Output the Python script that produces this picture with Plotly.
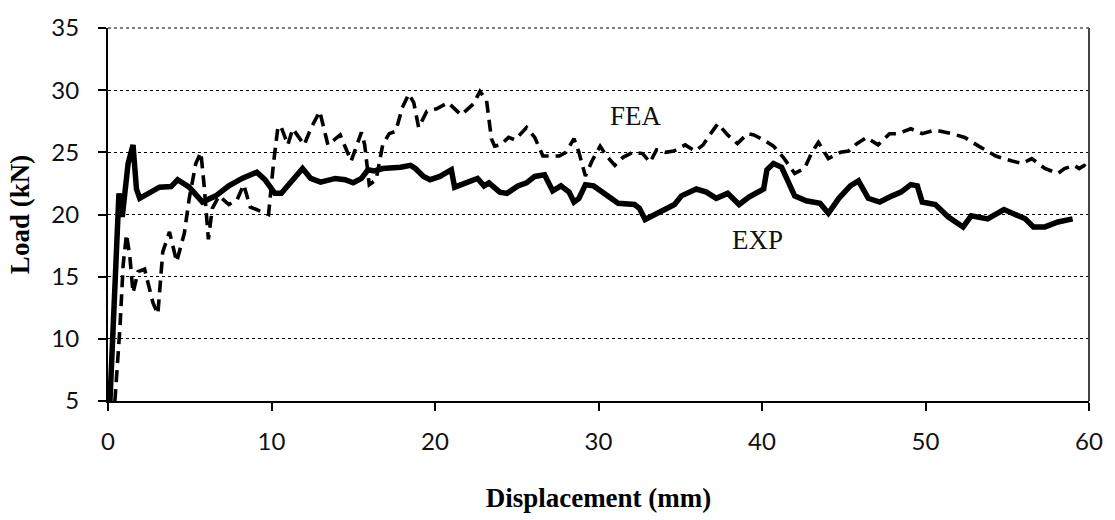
import plotly.graph_objects as go

# Experimental load-displacement curve (solid)
exp_disp = [0.12, 0.63, 0.67, 0.87, 1.0, 1.23, 1.53, 1.74, 1.94, 2.44, 3.15, 3.86, 4.26, 4.97,
            5.78, 6.59, 7.39, 8.2, 9.1, 9.6, 10.2, 10.6, 11.2, 11.9, 12.4, 13.0, 13.9, 14.5,
            15.0, 15.5, 15.9, 16.3, 16.8, 17.5, 17.9, 18.5, 18.8, 19.3, 19.7, 20.3, 21.0, 21.2,
            22.0, 22.6, 23.0, 23.3, 23.96, 24.4, 25.07, 25.6, 26.1, 26.7, 27.2, 27.7, 28.2, 28.5,
            28.8, 29.2, 29.7, 30.4, 31.2, 32.2, 32.5, 32.85, 33.45, 34.06, 34.65, 35.07, 35.98,
            36.6, 37.2, 37.9, 38.6, 39.2, 40.1, 40.3, 40.7, 41.2, 42.0, 42.7, 43.55, 44.06, 44.7,
            45.4, 45.9, 46.5, 47.2, 47.96, 48.5, 49.1, 49.5, 49.8, 50.6, 51.4, 52.3, 52.8, 53.8,
            54.8, 55.3, 56.1, 56.6, 57.3, 58.1, 59.0]
exp_load = [5.0, 21.5, 21.7, 19.8, 21.5, 24.1, 25.6, 22.05, 21.3, 21.7, 22.2, 22.25, 22.8, 22.2,
            21.0, 21.5, 22.3, 22.9, 23.4, 22.8, 21.7, 21.7, 22.6, 23.7, 22.9, 22.6, 22.9, 22.8,
            22.55, 22.9, 23.6, 23.5, 23.7, 23.7, 23.8, 23.95, 23.7, 23.06, 22.8, 23.06, 23.6, 22.2,
            22.55, 22.9, 22.3, 22.55, 21.8, 21.7, 22.3, 22.55, 23.06, 23.2, 21.9, 22.3, 21.8, 21.0,
            21.3, 22.4, 22.3, 21.7, 20.9, 20.8, 20.5, 19.6, 20.0, 20.4, 20.8, 21.5, 22.05,
            21.8, 21.3, 21.7, 20.8, 21.4, 22.05, 23.6, 24.1, 23.8, 21.5, 21.1, 20.9, 20.1, 21.3,
            22.3, 22.7, 21.3, 21.0, 21.5, 21.8, 22.4, 22.3, 21.0, 20.8, 19.8, 19.0, 19.9, 19.65,
            20.4, 20.1, 19.65, 19.0, 19.0, 19.4, 19.65]

# Finite element analysis curve (dashed)
fea_disp = [0.42, 0.73, 0.93, 1.13, 1.33, 1.53, 1.84, 2.24, 2.75, 3.05, 3.35, 3.76, 4.2, 4.67,
            4.97, 5.37, 5.68, 5.88, 6.14, 6.38, 6.79, 7.39, 7.9, 8.3, 8.7, 9.82, 10.12, 10.4,
            10.6, 11.0, 11.3, 12.0, 12.4, 12.95, 13.45, 14.2, 14.87, 15.5, 15.7, 15.98, 16.4,
            16.8, 17.2, 17.6, 18.0, 18.4, 18.7, 19.0, 19.5, 20.1, 20.8, 21.6, 22.35, 22.75, 23.15,
            23.45, 23.65, 24.0, 24.5, 24.9, 25.6, 26.1, 26.6, 27.6, 28.0, 28.5, 28.8, 29.2, 29.6,
            30.1, 30.5, 31.0, 31.5, 32.1, 32.7, 33.15, 33.55, 34.1, 34.6, 35.3, 35.9, 36.4, 36.8,
            37.3, 37.9, 38.5, 39.1, 39.5, 40.1, 40.7, 41.3, 42.0, 42.6, 43.05, 43.45, 44.06, 44.8,
            45.3, 45.8, 46.4, 47.1, 47.8, 48.3, 49.1, 49.8, 50.6, 51.6, 52.4, 53.25, 54.3, 55.3,
            55.9, 56.5, 57.3, 58.1, 58.5, 59.1, 59.4, 59.7, 60.0]
fea_load = [5.0, 10.9, 16.0, 18.4, 16.7, 13.7, 15.4, 15.6, 12.9, 12.0, 17.0, 18.6, 16.2, 18.5,
            21.3, 24.1, 25.0, 22.3, 18.0, 20.5, 21.5, 20.8, 21.2, 22.4, 20.6, 20.0, 24.1, 27.1,
            27.0, 25.6, 26.9, 25.6, 26.9, 28.3, 25.6, 26.4, 24.3, 26.6, 25.6, 22.4, 22.8,
            25.6, 26.5, 26.7, 28.6, 29.7, 29.0, 27.0, 28.3, 28.5, 29.0, 28.0, 28.9, 29.9, 29.2,
            26.1, 25.5, 25.6, 26.2, 26.0, 27.0, 26.2, 24.7, 24.7, 25.0, 26.1, 25.0, 23.1, 24.3,
            25.5, 24.7, 23.95, 24.6, 25.0, 24.9, 24.2, 25.2, 25.0, 25.1, 25.6, 25.1, 25.6, 26.4,
            27.3, 26.4, 25.7, 26.5, 26.4, 26.0, 25.5, 24.6, 23.3, 23.7, 25.0, 25.8, 24.5, 25.0,
            25.1, 25.7, 26.2, 25.6, 26.5, 26.5, 26.9, 26.5, 26.8, 26.5, 26.2, 25.5, 24.7, 24.3,
            24.1, 24.5, 23.7, 23.3, 23.7, 23.95, 23.7, 23.95, 23.6]

x_ticks = [0, 10, 20, 30, 40, 50, 60]
y_ticks = [5, 10, 15, 20, 25, 30, 35]

tick_font = dict(family="Lato, Open Sans, sans-serif", size=24, color="#111111")
title_font = dict(family="Liberation Serif, Times New Roman, serif", size=27, color="#000000")
label_font = dict(family="Liberation Serif, Times New Roman, serif", size=27, color="#111111")

fig = go.Figure()
fig.add_trace(go.Scatter(x=fea_disp, y=fea_load, mode="lines", name="FEA",
                         line=dict(color="black", width=3.6, dash="12px,7px")))
fig.add_trace(go.Scatter(x=exp_disp, y=exp_load, mode="lines", name="EXP",
                         line=dict(color="black", width=5.5)))

fig.update_layout(
    width=1115, height=520,
    margin=dict(l=108, r=16, t=23, b=103),
    paper_bgcolor="white", plot_bgcolor="white",
    showlegend=False,
    xaxis=dict(range=[0, 60], tickvals=x_ticks, ticks="outside", ticklen=8, tickwidth=1.5,
               tickcolor="black", showline=True, linecolor="black", linewidth=2,
               showgrid=False, zeroline=False, tickfont=tick_font, ticklabelstandoff=10,
               title=dict(text="<b>Displacement (mm)</b>", font=title_font, standoff=34)),
    yaxis=dict(range=[5, 35], tickvals=y_ticks, ticks="outside", ticklen=8, tickwidth=1.5,
               tickcolor="black", showline=True, linecolor="black", linewidth=2,
               showgrid=True, gridcolor="black", gridwidth=1, griddash="dot",
               zeroline=False, tickfont=tick_font, ticklabelstandoff=14,
               title=dict(text="<b>Load (kN)</b>", font=title_font, standoff=14)),
    shapes=[
        dict(type="line", xref="paper", yref="paper", x0=1, x1=1, y0=0, y1=1,
             line=dict(color="#444444", width=2)),
        dict(type="line", xref="paper", yref="paper", x0=0, x1=1, y0=1, y1=1,
             line=dict(color="#555555", width=1.5, dash="dot")),
    ],
    annotations=[
        dict(x=32.3, y=27.9, xref="x", yref="y", text="FEA", showarrow=False, font=label_font),
        dict(x=39.75, y=17.93, xref="x", yref="y", text="EXP", showarrow=False, font=label_font),
    ],
)

fig.write_html("out.html")
